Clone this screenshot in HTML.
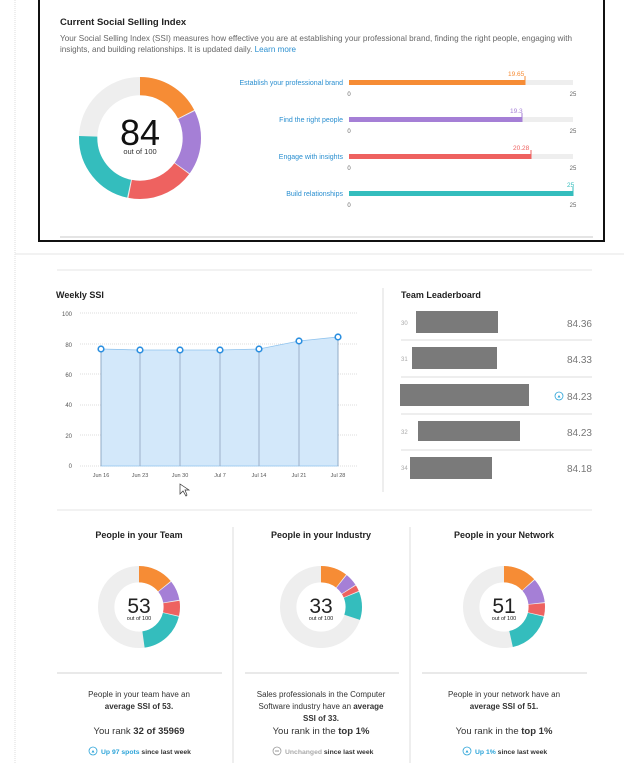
<!DOCTYPE html>
<html><head><meta charset="utf-8"><style>
body{margin:0;width:624px;height:763px;background:#fff;overflow:hidden;font-family:"Liberation Sans",sans-serif}
svg text{font-family:"Liberation Sans",sans-serif}
</style></head><body>
<svg width="624" height="763" viewBox="0 0 624 763" xmlns="http://www.w3.org/2000/svg">
<line x1="15" y1="0" x2="15" y2="763" stroke="#ddd" stroke-dasharray="1,1"/>
<line x1="15" y1="254" x2="624" y2="254" stroke="#e6e6e6"/>
<!-- top box -->
<path d="M39 0 V241 H604 V0" fill="none" stroke="#111" stroke-width="2"/>
<line x1="60" y1="237" x2="593" y2="237" stroke="#e4e4e4" stroke-width="2"/>
<text x="60" y="25" font-size="9.5" font-weight="bold" fill="#222">Current Social Selling Index</text>
<text x="60" y="41" font-size="8.1" fill="#666" textLength="512" lengthAdjust="spacingAndGlyphs">Your Social Selling Index (SSI) measures how effective you are at establishing your professional brand, finding the right people, engaging with</text>
<text x="60" y="52" font-size="8.1" fill="#666">insights, and building relationships. It is updated daily. <tspan fill="#2a8fd0">Learn more</tspan></text>
<g transform="translate(140,138) scale(61,61) rotate(-90)">
<circle r="0.85" fill="none" stroke="#eee" stroke-width="0.3"/>
<circle r="0.85" fill="none" stroke="#f68c35" stroke-width="0.3" pathLength="100" stroke-dasharray="19.3 100" stroke-dashoffset="0"/>
<circle r="0.85" fill="none" stroke="#a57fd6" stroke-width="0.3" pathLength="100" stroke-dasharray="19 100" stroke-dashoffset="-19.65"/>
<circle r="0.85" fill="none" stroke="#ee6260" stroke-width="0.3" pathLength="100" stroke-dasharray="19.9 100" stroke-dashoffset="-38.95"/>
<circle r="0.85" fill="none" stroke="#34bdbd" stroke-width="0.3" pathLength="100" stroke-dasharray="24.6 100" stroke-dashoffset="-59.23"/>
</g>
<text x="140" y="145" font-size="36" text-anchor="middle" fill="#111">84</text>
<text x="140" y="154" font-size="7.5" text-anchor="middle" fill="#333">out of 100</text>
<g font-size="7" fill="#2a8fd0" text-anchor="end">
<text x="343" y="85">Establish your professional brand</text>
<text x="343" y="122">Find the right people</text>
<text x="343" y="159">Engage with insights</text>
<text x="343" y="196">Build relationships</text>
</g>
<g>
<rect x="349" y="80" width="224" height="5" fill="#eee"/><rect x="349" y="80" width="176" height="5" fill="#f68c35"/><line x1="525" y1="76" x2="525" y2="85" stroke="#f68c35"/>
<rect x="349" y="117" width="224" height="5" fill="#eee"/><rect x="349" y="117" width="173" height="5" fill="#a57fd6"/><line x1="522" y1="113" x2="522" y2="122" stroke="#a57fd6"/>
<rect x="349" y="154" width="224" height="5" fill="#eee"/><rect x="349" y="154" width="182" height="5" fill="#ee6260"/><line x1="531" y1="150" x2="531" y2="159" stroke="#ee6260"/>
<rect x="349" y="191" width="224" height="5" fill="#34bdbd"/><line x1="573" y1="187" x2="573" y2="196" stroke="#34bdbd"/>
</g>
<g font-size="6.5">
<text x="508" y="76" fill="#f68c35">19.65</text><text x="510" y="113" fill="#a57fd6">19.3</text><text x="513" y="150" fill="#ee6260">20.28</text><text x="567" y="187" fill="#34bdbd">25</text>
</g>
<g font-size="6" fill="#666" text-anchor="middle">
<text x="349" y="96">0</text><text x="573" y="96">25</text>
<text x="349" y="133">0</text><text x="573" y="133">25</text>
<text x="349" y="170">0</text><text x="573" y="170">25</text>
<text x="349" y="207">0</text><text x="573" y="207">25</text>
</g>
<!-- weekly -->
<line x1="57" y1="270" x2="592" y2="270" stroke="#e6e6e6"/>
<text x="56" y="298" font-size="9" font-weight="bold" fill="#222">Weekly SSI</text>
<g stroke="#ddd" stroke-dasharray="1,1">
<line x1="80" y1="313" x2="358" y2="313"/><line x1="80" y1="344" x2="358" y2="344"/><line x1="80" y1="374" x2="358" y2="374"/><line x1="80" y1="405" x2="358" y2="405"/><line x1="80" y1="435" x2="358" y2="435"/><line x1="80" y1="466" x2="358" y2="466"/>
</g>
<g font-size="6" fill="#555" text-anchor="end">
<text x="72" y="316">100</text><text x="72" y="347">80</text><text x="72" y="377">60</text><text x="72" y="407">40</text><text x="72" y="438">20</text><text x="72" y="468">0</text>
</g>
<path d="M101 349 L140 350 L180 350 L220 350 L259 349 L299 341 L338 337 L338 466 L101 466 Z" fill="#d3e8fa" stroke="#8fc3ee" stroke-width="0.8"/>
<g stroke="#8fa3bd" stroke-width="0.8">
<line x1="101" y1="349" x2="101" y2="466"/><line x1="140" y1="350" x2="140" y2="466"/><line x1="180" y1="350" x2="180" y2="466"/><line x1="220" y1="350" x2="220" y2="466"/><line x1="259" y1="349" x2="259" y2="466"/><line x1="299" y1="341" x2="299" y2="466"/><line x1="338" y1="337" x2="338" y2="466"/>
</g>
<g fill="#fff" stroke="#2b8fe0" stroke-width="1.6">
<circle cx="101" cy="349" r="2.8"/><circle cx="140" cy="350" r="2.8"/><circle cx="180" cy="350" r="2.8"/><circle cx="220" cy="350" r="2.8"/><circle cx="259" cy="349" r="2.8"/><circle cx="299" cy="341" r="2.8"/><circle cx="338" cy="337" r="2.8"/>
</g>
<g font-size="5.5" fill="#555" text-anchor="middle">
<text x="101" y="477">Jun 16</text><text x="140" y="477">Jun 23</text><text x="180" y="477">Jun 30</text><text x="220" y="477">Jul 7</text><text x="259" y="477">Jul 14</text><text x="299" y="477">Jul 21</text><text x="338" y="477">Jul 28</text>
</g>
<path d="M180 484 L180 494 L183 491 L186 496 L187 495 L185 490 L189 490 Z" fill="#fff" stroke="#333" stroke-width="0.7"/>
<line x1="383" y1="288" x2="383" y2="492" stroke="#ddd"/>
<text x="401" y="298" font-size="9" font-weight="bold" fill="#222">Team Leaderboard</text>
<g stroke="#ddd"><line x1="401" y1="340" x2="592" y2="340"/><line x1="401" y1="377" x2="592" y2="377"/><line x1="401" y1="414" x2="592" y2="414"/><line x1="401" y1="450" x2="592" y2="450"/></g>
<g font-size="6" fill="#aaa"><text x="401" y="325">30</text><text x="401" y="361">31</text><text x="401" y="434">32</text><text x="401" y="470">34</text></g>
<g fill="#7a7a7a">
<rect x="416" y="311" width="82" height="22"/><rect x="412" y="347" width="85" height="22"/><rect x="400" y="384" width="129" height="22"/><rect x="418" y="421" width="102" height="20"/><rect x="410" y="457" width="82" height="22"/>
</g>
<g font-size="10" fill="#777" text-anchor="end">
<text x="592" y="327">84.36</text><text x="592" y="363">84.33</text><text x="592" y="400">84.23</text><text x="592" y="436">84.23</text><text x="592" y="472">84.18</text>
</g>
<circle cx="559" cy="396" r="4" fill="none" stroke="#2aa3d8" stroke-width="0.8"/><path d="M557.5 397.5 L559 395 L560.5 397.5 Z" fill="#2aa3d8"/>
<line x1="57" y1="510" x2="592" y2="510" stroke="#e6e6e6"/>
<!-- bottom -->
<line x1="233" y1="527" x2="233" y2="763" stroke="#ddd"/><line x1="410" y1="527" x2="410" y2="763" stroke="#ddd"/>
<g font-size="9" font-weight="bold" fill="#222" text-anchor="middle">
<text x="139" y="538">People in your Team</text><text x="321" y="538">People in your Industry</text><text x="504" y="538">People in your Network</text>
</g>
<g transform="translate(139,607) scale(41,41) rotate(-90)" fill="none" stroke-width="0.4">
<circle r="0.8" stroke="#eee"/>
<circle r="0.8" stroke="#f68c35" pathLength="100" stroke-dasharray="15.6 100"/>
<circle r="0.8" stroke="#a57fd6" pathLength="100" stroke-dasharray="8.6 100" stroke-dashoffset="-16"/>
<circle r="0.8" stroke="#ee6260" pathLength="100" stroke-dasharray="6.6 100" stroke-dashoffset="-25"/>
<circle r="0.8" stroke="#34bdbd" pathLength="100" stroke-dasharray="21 100" stroke-dashoffset="-32"/>
</g>
<g transform="translate(321,607) scale(41,41) rotate(-90)" fill="none" stroke-width="0.4">
<circle r="0.8" stroke="#eee"/>
<circle r="0.8" stroke="#f68c35" pathLength="100" stroke-dasharray="11.6 100"/>
<circle r="0.8" stroke="#a57fd6" pathLength="100" stroke-dasharray="5.6 100" stroke-dashoffset="-12"/>
<circle r="0.8" stroke="#ee6260" pathLength="100" stroke-dasharray="2.6 100" stroke-dashoffset="-18"/>
<circle r="0.8" stroke="#34bdbd" pathLength="100" stroke-dasharray="12.4 100" stroke-dashoffset="-21"/>
</g>
<g transform="translate(504,607) scale(41,41) rotate(-90)" fill="none" stroke-width="0.4">
<circle r="0.8" stroke="#eee"/>
<circle r="0.8" stroke="#f68c35" pathLength="100" stroke-dasharray="14.6 100"/>
<circle r="0.8" stroke="#a57fd6" pathLength="100" stroke-dasharray="10.6 100" stroke-dashoffset="-15"/>
<circle r="0.8" stroke="#ee6260" pathLength="100" stroke-dasharray="5.6 100" stroke-dashoffset="-26"/>
<circle r="0.8" stroke="#34bdbd" pathLength="100" stroke-dasharray="19.6 100" stroke-dashoffset="-32"/>
</g>
<g text-anchor="middle" fill="#222">
<text x="139" y="613" font-size="21">53</text><text x="321" y="613" font-size="21">33</text><text x="504" y="613" font-size="21">51</text>
<text x="139" y="620" font-size="5.5">out of 100</text><text x="321" y="620" font-size="5.5">out of 100</text><text x="504" y="620" font-size="5.5">out of 100</text>
</g>
<g stroke="#e2e2e2" stroke-width="1.5"><line x1="57" y1="673" x2="222" y2="673"/><line x1="245" y1="673" x2="399" y2="673"/><line x1="422" y1="673" x2="587" y2="673"/></g>
<g font-size="8" fill="#333" text-anchor="middle">
<text x="139" y="697">People in your team have an</text><text x="139" y="709" font-weight="bold">average SSI of 53.</text>
<text x="321" y="697">Sales professionals in the Computer</text><text x="321" y="709">Software industry have an <tspan font-weight="bold">average</tspan></text><text x="321" y="721" font-weight="bold">SSI of 33.</text>
<text x="504" y="697">People in your network have an</text><text x="504" y="709" font-weight="bold">average SSI of 51.</text>
</g>
<g font-size="9.5" fill="#333" text-anchor="middle">
<text x="139" y="734">You rank <tspan font-weight="bold">32 of 35969</tspan></text>
<text x="321" y="734">You rank in the <tspan font-weight="bold">top 1%</tspan></text>
<text x="504" y="734">You rank in the <tspan font-weight="bold">top 1%</tspan></text>
</g>
<g font-size="6.8" font-weight="bold">
<circle cx="93" cy="751" r="4" fill="none" stroke="#2aa3d8" stroke-width="0.8"/><path d="M91.5 752.5 L93 750 L94.5 752.5 Z" fill="#2aa3d8"/>
<text x="101" y="754" fill="#2aa3d8">Up 97 spots <tspan fill="#333">since last week</tspan></text>
<circle cx="277" cy="751" r="4" fill="none" stroke="#999" stroke-width="0.8"/><line x1="275" y1="751" x2="279" y2="751" stroke="#999"/>
<text x="285" y="754" fill="#aaa">Unchanged <tspan fill="#333">since last week</tspan></text>
<circle cx="467" cy="751" r="4" fill="none" stroke="#2aa3d8" stroke-width="0.8"/><path d="M465.5 752.5 L467 750 L468.5 752.5 Z" fill="#2aa3d8"/>
<text x="475" y="754" fill="#2aa3d8">Up 1% <tspan fill="#333">since last week</tspan></text>
</g>
</svg>
</body></html>
